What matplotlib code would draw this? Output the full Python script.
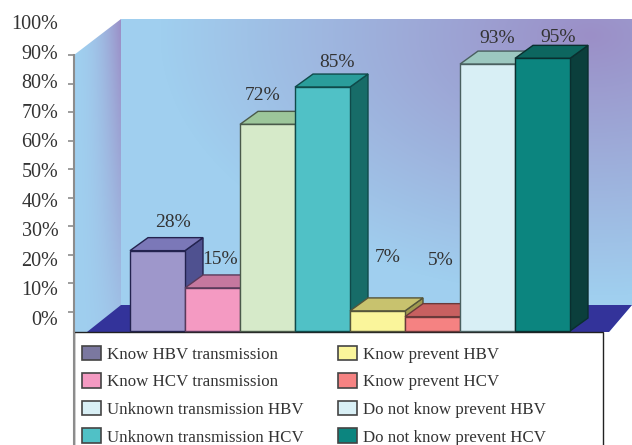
import numpy as np
import matplotlib
matplotlib.use("Agg")
import matplotlib.pyplot as plt
from matplotlib.patches import Polygon, Patch, Rectangle

plt.rcParams['font.family'] = ['Liberation Serif', 'DejaVu Serif']

# bars, left to right
values = [28, 15, 72, 85, 7, 5, 93, 95]
bar_labels = ['28%', '15%', '72%', '85%', '7%', '5%', '93%', '95%']
front_colors = ['#9e97cb', '#f49ac2', '#d6eac9', '#50c1c6', '#faf59b', '#f58282', '#d8eff5', '#0c857f']
top_colors = ['#7b78b8', '#c5789f', '#9cc69a', '#2a9d9b', '#c8c26e', '#c86060', '#9cc8c0', '#0d665f']
side_colors = ['#4f5190', '#a8648a', '#86a886', '#176c68', '#a09a50', '#a85050', '#80a8a8', '#0b3f3c']
edge_colors = ['#23234f', '#5a3a5a', '#4a5a4a', '#0f4a4a', '#55553a', '#6a3a3a', '#4a6060', '#0a2f2f']
# label offset from bar centre/top, in px
label_dx = [16, 8, -5, 15, 10, 8, 10, 16]
label_dy = [28, 28, 29, 25, 53, 56, 26, 21]

tick_values = [0, 10, 20, 30, 40, 50, 60, 70, 80, 90]
label_values = [0, 10, 20, 30, 40, 50, 60, 70, 80, 90, 100]

legend_labels = ['Know HBV transmission', 'Know HCV transmission',
                 'Unknown transmission HBV', 'Unknown transmission HCV',
                 'Know prevent HBV', 'Know prevent HCV',
                 'Do not know prevent HBV', 'Do not know prevent HCV']
legend_colors = ['#7b78a0', '#f49ac2', '#d8eff5', '#50c1c6',
                 '#faf59b', '#f58282', '#d8eff5', '#0c857f']

W, H = 632, 445
fig = plt.figure(figsize=(W / 100, H / 100), dpi=100)


def px_axes(x0, y_top, x1, y_bot, **kw):
    return fig.add_axes([x0 / W, 1 - y_bot / H, (x1 - x0) / W, (y_bot - y_top) / H], **kw)


# background in pixel coordinates
bg = px_axes(0, 0, W, H)
bg.set_xlim(0, W)
bg.set_ylim(H, 0)
bg.axis('off')

yy, xx = np.mgrid[19:332, 121:633]
dist = np.sqrt(((xx - 590) / 430.0) ** 2 + ((yy - 35) / 260.0) ** 2)
t = np.clip(dist, 0, 1)[..., None]
purple = np.array([0x9b, 0x8f, 0xc7]) / 255
light = np.array([0xa0, 0xcf, 0xef]) / 255
wall = purple * (1 - t) + light * t
bg.imshow(wall, extent=(121, 633, 332, 19), aspect='auto', zorder=1)

gx = np.linspace(0, 1, 48)[None, :, None]
vert = np.linspace(0, 1, 313)[:, None, None]
side = light * (1 - gx ** 2 * (1 - vert * 0.8)) + purple * gx ** 2 * (1 - vert * 0.8)
im = bg.imshow(side, extent=(74, 121, 332, 19), aspect='auto', zorder=1)
im.set_clip_path(Polygon([(74, 55), (121, 19), (121, 332), (74, 332)], transform=bg.transData))

bg.add_patch(Polygon([(632, 19), (633, 19), (633, 332), (609, 332), (632, 305)],
                     facecolor='white', edgecolor='none', zorder=2))
bg.add_patch(Polygon([(87, 332), (121, 305), (632, 305), (609, 332)],
                     facecolor='#33339a', edgecolor='none', zorder=2))
bg.set_xlim(0, W)
bg.set_ylim(H, 0)

# legend box
bg.add_patch(Rectangle((74, 332), 529, 120, facecolor='white', edgecolor='#222222', lw=1, zorder=3))
bg.plot([74, 74], [332, 445], color='#8c8c8c', lw=1.5, zorder=4)

# bars
px_per_x, px_per_y = 55.0, 2.87
ax = px_axes(0, 0, W, H)
ax.set_xlim(-130 / px_per_x, (W - 130) / px_per_x)
ax.set_ylim((331 - H) / px_per_y, 331 / px_per_y)
ax.patch.set_alpha(0)
ax.axis('off')
depth_x, depth_y = 18 / px_per_x, 13 / px_per_y

z = 5
for i, v in enumerate(values):
    ec = edge_colors[i]
    ax.add_patch(Polygon([(i + 1, 0), (i + 1 + depth_x, depth_y),
                          (i + 1 + depth_x, v + depth_y), (i + 1, v)],
                         facecolor=side_colors[i], edgecolor=ec, lw=1, zorder=z))
    ax.add_patch(Polygon([(i, v), (i + depth_x, v + depth_y),
                          (i + 1 + depth_x, v + depth_y), (i + 1, v)],
                         facecolor=top_colors[i], edgecolor=ec, lw=1, zorder=z + 1))
    ax.bar(i, v, width=1, align='edge', color=front_colors[i], edgecolor=ec, lw=1, zorder=z + 2)
    z += 3

for i, v in enumerate(values):
    ax.annotate(bar_labels[i], (i + 0.5, v), xytext=(label_dx[i] * 0.72, label_dy[i] * 0.72),
                textcoords='offset points', ha='center', va='center',
                fontsize=14, color='#333333', zorder=50)

# tick marks on the front wall edge
tk = px_axes(74, 55, 75, 312)
tk.set_ylim(0, 90)
tk.patch.set_alpha(0)
tk.set_xticks([])
tk.set_yticks(tick_values)
tk.set_yticklabels([])
tk.tick_params(axis='y', length=4, width=1.2, color='#8c8c8c')
for s in tk.spines.values():
    s.set_visible(False)
bg.plot([74, 74], [55, 332], color='#8c8c8c', lw=1.5, zorder=4)

# tick labels sit on their own spacing
lb = px_axes(64, 22, 65, 318)
lb.set_ylim(0, 100)
lb.patch.set_alpha(0)
lb.set_xticks([])
lb.set_yticks(label_values)
lb.set_yticklabels([f'{p}%' for p in label_values], fontsize=14.5, color='#333333')
lb.tick_params(axis='y', length=0, pad=4)
for s in lb.spines.values():
    s.set_visible(False)

handles = [Patch(facecolor=c, edgecolor='#444444', lw=1.2) for c in legend_colors]
leg = ax.legend(handles, legend_labels, ncol=2, frameon=False, fontsize=12.15,
                loc='upper left', bbox_to_anchor=(70 / W, 1 - 334 / H), bbox_transform=fig.transFigure,
                borderpad=0.2, handlelength=1.15, handleheight=0.95, handletextpad=0.36,
                labelspacing=0.62, columnspacing=2.0, labelcolor='#333333')
leg.set_zorder(60)

fig.savefig('out.png', dpi=100)
